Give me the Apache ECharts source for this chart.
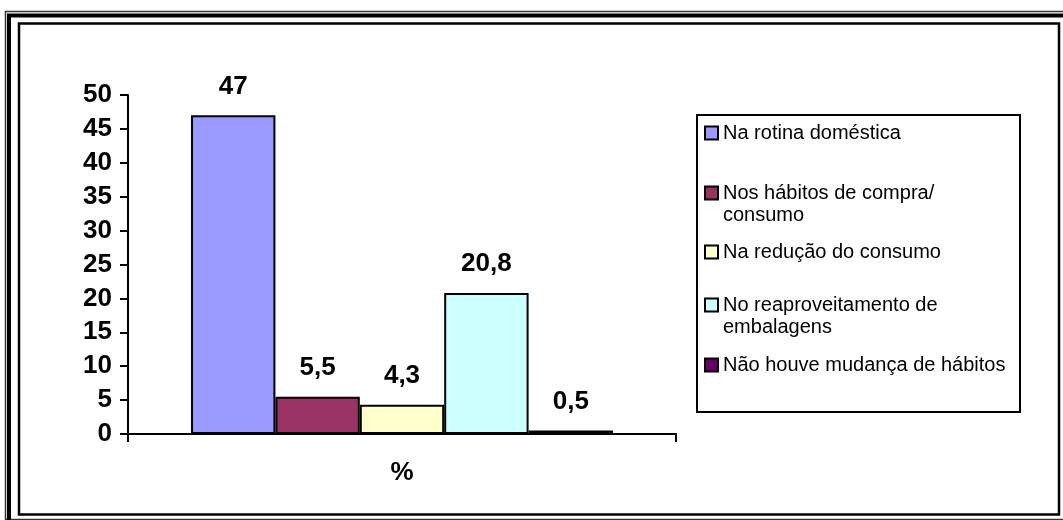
<!DOCTYPE html>
<html>
<head>
<meta charset="utf-8">
<script src="https://cdn.jsdelivr.net/npm/echarts@6/dist/echarts.min.js"></script>
<style>
  html, body { margin: 0; padding: 0; background: #fff; }
  #chart { width: 1063px; height: 520px; }
</style>
</head>
<body>
<div id="chart"></div>
<script>
// Single category with one bar per answer
const categories = ['%'];
const seriesNames = [
  'Na rotina doméstica',
  'Nos hábitos de compra/\nconsumo',
  'Na redução do consumo',
  'No reaproveitamento de\nembalagens',
  'Não houve mudança de hábitos'
];
const seriesValues = [47, 5.5, 4.3, 20.8, 0.5];
const seriesColors = ['#9999FF', '#993366', '#FFFFCC', '#CCFFFF', '#660066'];
const yTicks = { min: 0, max: 50, interval: 5 };

// Vertical centre of each legend swatch (aligned with the entry's first line)
const legendRows = [133, 193, 252, 305, 365];

const FONT = 'Liberation Sans, Arial, sans-serif';
const LEGEND_FONT = 20;
const LINE_H = 22;
const BOLD_SIZE = 26;

const chart = echarts.init(document.getElementById('chart'), null, { renderer: 'canvas' });

const series = seriesNames.map((name, i) => ({
  name: name,
  type: 'bar',
  data: [seriesValues[i]],
  barGap: '0%',
  barCategoryGap: '23%',
  itemStyle: { color: seriesColors[i], borderColor: '#000', borderWidth: 2 },
  label: {
    show: true,
    position: 'top',
    distance: 16,
    color: '#000',
    fontFamily: FONT,
    fontWeight: 'bold',
    fontSize: BOLD_SIZE,
    formatter: p => String(p.value).replace('.', ',')
  },
  emphasis: { disabled: true },
  animation: false
}));

// One legend block per entry so each row sits where it belongs.
// Multi-line entries get a blank leading line so the swatch lines up
// with the first line of text.
const legends = seriesNames.map((name, i) => {
  const lines = name.split('\n').length;
  const total = lines === 1 ? 1 : lines * 2 - 1;
  const half = (total * LINE_H) / 2;
  return {
    show: true,
    orient: 'vertical',
    left: 704,
    top: legendRows[i] - half,
    padding: 0,
    itemWidth: 13,
    itemHeight: 13,
    itemGap: 0,
    icon: 'rect',
    selectedMode: false,
    itemStyle: { borderColor: '#000', borderWidth: 2 },
    formatter: n => {
      const parts = n.split('\n');
      if (parts.length === 1) return n;
      const pad = new Array(parts.length - 1).fill('\u00a0');
      return pad.concat(parts).join('\n');
    },
    textStyle: {
      fontFamily: FONT,
      fontSize: LEGEND_FONT,
      lineHeight: LINE_H,
      color: '#000'
    },
    data: [{ name: name }]
  };
});

const option = {
  backgroundColor: '#fff',
  animation: false,
  grid: { left: 128, right: 387, top: 95, bottom: 86 },
  xAxis: {
    type: 'category',
    data: categories,
    axisLine: { show: true, lineStyle: { color: '#000', width: 2 } },
    axisTick: { show: true, inside: false, length: 8, lineStyle: { color: '#000', width: 2 } },
    axisLabel: { color: '#000', fontFamily: FONT, fontWeight: 'bold', fontSize: BOLD_SIZE, margin: 26 },
    splitLine: { show: false }
  },
  yAxis: {
    type: 'value',
    min: yTicks.min,
    max: yTicks.max,
    interval: yTicks.interval,
    axisLine: { show: true, lineStyle: { color: '#000', width: 2 } },
    axisTick: { show: true, inside: false, length: 8, lineStyle: { color: '#000', width: 2 } },
    axisLabel: { color: '#000', fontFamily: FONT, fontWeight: 'bold', fontSize: BOLD_SIZE, margin: 16 },
    splitLine: { show: false }
  },
  legend: legends,
  series: series,
  graphic: [
    // layered frame round the chart area
    { type: 'rect', silent: true, z: 100,
      shape: { x: 5.5, y: 11.5, width: 1200, height: 508 },
      style: { fill: null, stroke: '#333', lineWidth: 1.5 } },
    { type: 'rect', silent: true, z: 100,
      shape: { x: 9, y: 15.5, width: 1200, height: 1200 },
      style: { fill: null, stroke: '#000', lineWidth: 4 } },
    { type: 'rect', silent: true, z: 100,
      shape: { x: 19, y: 23.5, width: 1040, height: 491 },
      style: { fill: null, stroke: '#000', lineWidth: 2.5 } },
    // legend box
    { type: 'rect', silent: true, z: 100,
      shape: { x: 697, y: 115, width: 323, height: 297 },
      style: { fill: null, stroke: '#000', lineWidth: 2 } }
  ]
};

chart.setOption(option);
</script>
</body>
</html>
